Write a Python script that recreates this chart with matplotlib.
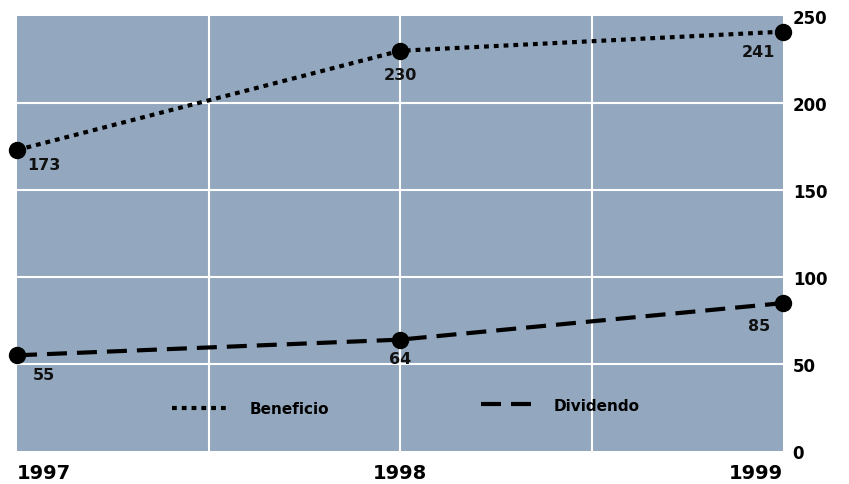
import matplotlib
matplotlib.use("Agg")
import matplotlib.pyplot as plt
from matplotlib.lines import Line2D

# Data
years = [1997, 1998, 1999]
beneficio = [173, 230, 241]
dividendo = [55, 64, 85]
y_ticks = [0, 50, 100, 150, 200, 250]
x_tick_labels = ["1997", "1998", "1999"]

plt.rcParams["font.family"] = ["DejaVu Sans"]

W, H = 849, 485
fig = plt.figure(figsize=(W / 100, H / 100), dpi=100)
ax = fig.add_axes([17 / W, 1 - 452 / H, (783 - 17) / W, (452 - 17) / H])

bg = "#93a8be"
ax.set_facecolor(bg)
for s in ax.spines.values():
    s.set_visible(False)

ax.set_xlim(1997, 1999)
ax.set_ylim(0, 250)

# grid
for gx in [1997.5, 1998, 1998.5]:
    ax.axvline(gx, color="white", lw=1.5, zorder=1)
for gy in y_ticks[1:-1]:
    ax.axhline(gy, color="white", lw=1.5, zorder=1)

# series
LW = 3.0
dot_style = (0, (1.15, 1.2))
dash_style = (0, (4.8, 2.4))
ax.plot(years, beneficio, color="black", lw=LW, linestyle=dot_style,
        dash_capstyle="butt", zorder=3)
ax.plot(years, dividendo, color="black", lw=LW, linestyle=dash_style,
        dash_capstyle="butt", zorder=3)
ax.plot(years, beneficio, "o", color="black", ms=11.5, clip_on=False, zorder=4)
ax.plot(years, dividendo, "o", color="black", ms=11.5, clip_on=False, zorder=4)

# value labels (offsets in pixels)
lab_kw = dict(fontsize=11.5, fontweight="bold", color="#111111", zorder=5)
offsets_b = [(10, -15, "left"), (0, -24, "center"), (-8, -20, "right")]
offsets_d = [(16, -19, "left"), (0, -19, "center"), (-13, -22, "right")]
for x, v, (dx, dy, ha) in zip(years, beneficio, offsets_b):
    ax.annotate(str(v), (x, v), xytext=(dx * 0.72, dy * 0.72), textcoords="offset points",
                ha=ha, va="center", annotation_clip=False, **lab_kw)
for x, v, (dx, dy, ha) in zip(years, dividendo, offsets_d):
    ax.annotate(str(v), (x, v), xytext=(dx * 0.72, dy * 0.72), textcoords="offset points",
                ha=ha, va="center", annotation_clip=False, **lab_kw)

# y axis on the right
ax.yaxis.tick_right()
ax.set_yticks(y_ticks)
ax.set_yticklabels([str(t) for t in y_ticks], fontsize=12, fontweight="bold")
ax.tick_params(axis="y", length=0, pad=7)

# x axis labels
ax.set_xticks(years)
ax.set_xticklabels(x_tick_labels, fontsize=14, fontweight="bold")
ax.tick_params(axis="x", length=0, pad=9)
xl = ax.get_xticklabels()
xl[0].set_ha("left")
xl[2].set_ha("right")

# legend entries
leg_prop = dict(family="DejaVu Sans", weight="bold", size=11)
leg1 = ax.legend([Line2D([], [], color="black", lw=LW, linestyle=dot_style)],
                 ["Beneficio"], loc="center left", bbox_to_anchor=(141 / 766, 0.097),
                 frameon=False, handlelength=3.7, handletextpad=1.4, prop=leg_prop)
ax.add_artist(leg1)
ax.legend([Line2D([], [], color="black", lw=LW, linestyle=dash_style)],
          ["Dividendo"], loc="center left", bbox_to_anchor=(450 / 766, 0.105),
          frameon=False, handlelength=3.3, handletextpad=1.5, prop=leg_prop)

fig.savefig("out.png", dpi=100, facecolor="white")
